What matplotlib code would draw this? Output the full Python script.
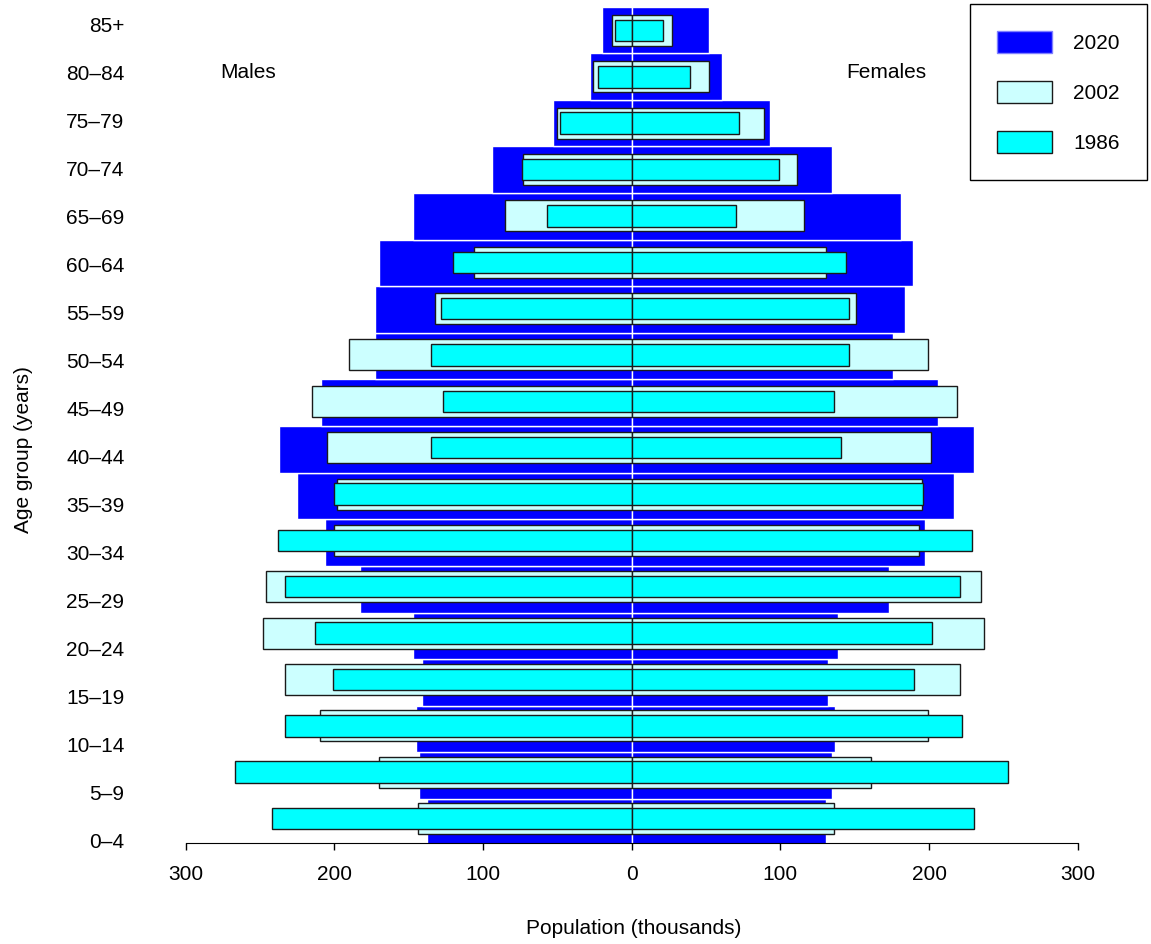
import numpy as np
import matplotlib
matplotlib.use("Agg")
import matplotlib.pyplot as plt
from matplotlib.patches import Patch

plt.rcParams['font.family'] = ['Liberation Sans', 'DejaVu Sans']

age_groups = ['0–4', '5–9', '10–14', '15–19', '20–24', '25–29', '30–34', '35–39',
              '40–44', '45–49', '50–54', '55–59', '60–64', '65–69', '70–74',
              '75–79', '80–84', '85+']

# population in thousands, youngest group first
males_2020 = [138, 143, 145, 141, 147, 183, 206, 225, 237, 209, 173, 173, 170, 147, 94, 53, 28, 20]
females_2020 = [131, 135, 137, 132, 139, 173, 197, 217, 230, 206, 176, 184, 189, 181, 135, 93, 61, 52]
males_2002 = [144, 170, 210, 233, 248, 246, 200, 198, 205, 215, 190, 132, 106, 85, 73, 50, 26, 13]
females_2002 = [136, 161, 199, 221, 237, 235, 193, 195, 201, 219, 199, 151, 131, 116, 111, 89, 52, 27]
males_1986 = [242, 267, 233, 201, 213, 233, 238, 200, 135, 127, 135, 128, 120, 57, 74, 48, 23, 11]
females_1986 = [230, 253, 222, 190, 202, 221, 229, 196, 141, 136, 146, 146, 144, 70, 99, 72, 39, 21]

years = ['2020', '2002', '1986']
colors = ['#0000ff', '#ccffff', '#00ffff']

fs = 15
fig = plt.figure(figsize=(11.51, 9.44), dpi=100)
ax = fig.add_axes([0.1226, 0.1070, 0.8525, 0.893])

idx = np.arange(len(age_groups))
# each year's bars sit on their own slightly different spacing
pos_2020 = 0.39 + 0.971 * idx
pos_old = 0.469 + 0.9656 * idx

ax.barh(pos_2020, -np.array(males_2020), height=0.971, color=colors[0],
        edgecolor='white', linewidth=1)
ax.barh(pos_2020, females_2020, height=0.971, color=colors[0],
        edgecolor='white', linewidth=1)
ax.barh(pos_old, -np.array(males_2002), height=0.646, color=colors[1],
        edgecolor='#1a1a1a', linewidth=1)
ax.barh(pos_old, females_2002, height=0.646, color=colors[1],
        edgecolor='#1a1a1a', linewidth=1)
ax.barh(pos_old, -np.array(males_1986), height=0.448, color=colors[2],
        edgecolor='#1a1a1a', linewidth=1)
ax.barh(pos_old, females_1986, height=0.448, color=colors[2],
        edgecolor='#1a1a1a', linewidth=1)

ax.set_xlim(-330, 330)
ax.set_ylim(-0.0417, 17.52)

ax.set_yticks(idx)
ax.set_yticklabels(age_groups, fontsize=fs)
ax.tick_params(axis='y', length=0, pad=12)

xt = [-300, -200, -100, 0, 100, 200, 300]
ax.set_xticks(xt)
ax.set_xticklabels([str(abs(v)) for v in xt], fontsize=fs)
ax.tick_params(axis='x', length=5, width=1, pad=11)

for s in ['left', 'top', 'right']:
    ax.spines[s].set_visible(False)
ax.spines['bottom'].set_bounds(-300, 300)

ax.text(-258, 16.0, 'Males', fontsize=fs, ha='center', va='center')
ax.text(171, 16.0, 'Females', fontsize=fs, ha='center', va='center')

fig.text(634 / 1151, 1 - 928 / 944, 'Population (thousands)', fontsize=fs,
         ha='center', va='center')
fig.text(24 / 1151, 1 - 450 / 944, 'Age group (years)', fontsize=fs,
         ha='center', va='center', rotation=90)

handles = [Patch(facecolor=colors[0], edgecolor='#8080ff', linewidth=1),
           Patch(facecolor=colors[1], edgecolor='#1a1a1a', linewidth=1),
           Patch(facecolor=colors[2], edgecolor='#1a1a1a', linewidth=1)]
leg = fig.legend(handles, years, loc='upper right', bbox_to_anchor=(1147 / 1151, 1 - 4 / 944),
                 bbox_transform=fig.transFigure, borderaxespad=0, fontsize=fs,
                 handlelength=2.6, handleheight=1.25, handletextpad=1.05,
                 labelspacing=1.33, borderpad=1.3, fancybox=False, framealpha=1)
leg.get_frame().set_edgecolor('black')
leg.get_frame().set_linewidth(1)

fig.savefig('out.png', dpi=100)
